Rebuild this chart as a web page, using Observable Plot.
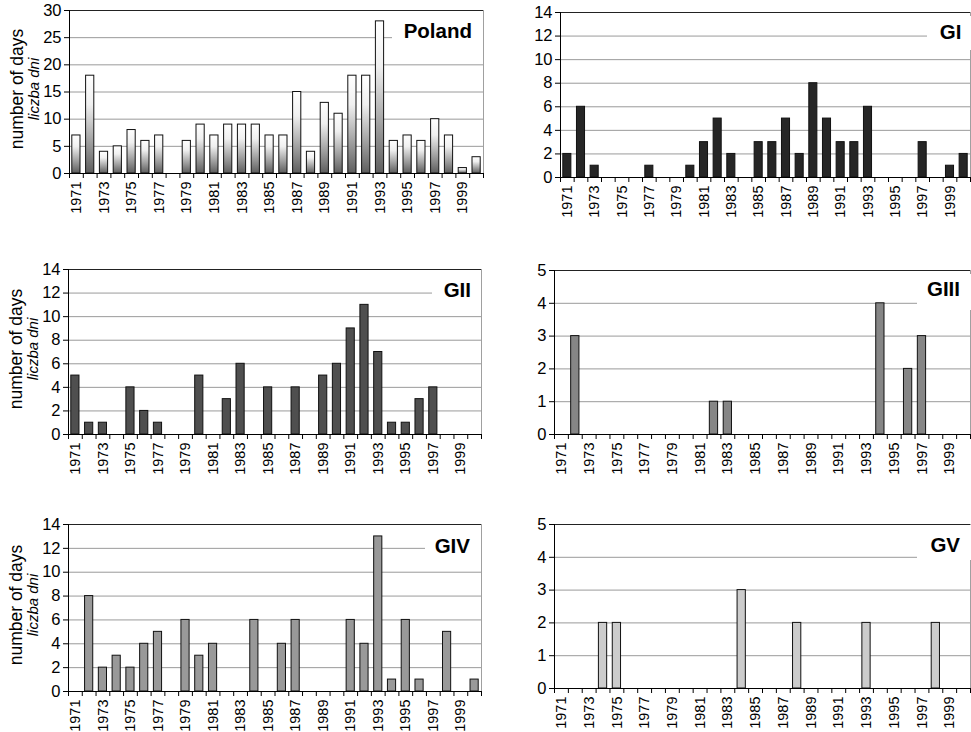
<!DOCTYPE html>
<html><head><meta charset="utf-8">
<script src="https://cdn.jsdelivr.net/npm/d3@7"></script>
<script src="https://cdn.jsdelivr.net/npm/@observablehq/plot@0.6"></script>
<style>
body{margin:0;background:#fff;}
#wrap{position:relative;width:971px;height:732px;overflow:hidden;background:#fff;}
#wrap > svg{position:absolute;overflow:visible;}
</style></head><body><div id="wrap"></div>
<script>
// ---- data ----
const years = [1971,1972,1973,1974,1975,1976,1977,1978,1979,1980,1981,1982,1983,1984,1985,
               1986,1987,1988,1989,1990,1991,1992,1993,1994,1995,1996,1997,1998,1999,2000];
const tickLabels = ["1971","1973","1975","1977","1979","1981","1983","1985","1987","1989",
                    "1991","1993","1995","1997","1999"];
const poland = [7,18,4,5,8,6,7,0,6,9,7,9,9,9,7,7,15,4,13,11,18,18,28,6,7,6,10,7,1,3];
const gI     = [2,6,1,0,0,0,1,0,0,1,3,5,2,0,3,3,5,2,8,5,3,3,6,0,0,0,3,0,1,2];
const gII    = [5,1,1,0,4,2,1,0,0,5,0,3,6,0,4,0,4,0,5,6,9,11,7,1,1,3,4,0,0,0];
const gIII   = [0,3,0,0,0,0,0,0,0,0,0,1,1,0,0,0,0,0,0,0,0,0,0,4,0,2,3,0,0,0];
const gIV    = [0,8,2,3,2,4,5,0,6,3,4,0,0,6,0,4,6,0,0,0,6,4,13,1,6,1,0,5,0,1];
const gV     = [0,0,0,2,2,0,0,0,0,0,0,0,0,3,0,0,0,2,0,0,0,0,2,0,0,0,0,2,0,0];
const yTitle = "number of days";
const yTitlePl = "liczba dni";

// ---- panel layout ----
const panels = [
  {name:"Poland", values:poland, max:30, step:5, fill:"url(#plgrad)", left:0, top:0, width:490, height:225,
   m:[10,7,52,69], ytitle:true, box:[392,16,483,52], tx:472, ty:37.5},
  {name:"GI", values:gI, max:14, step:2, fill:"#262626", left:490, top:0, width:481, height:229,
   m:[12,1,52,70], ytitle:false, box:[437,16,481,50], tx:471.5, ty:39.3},
  {name:"GII", values:gII, max:14, step:2, fill:"#4f4f4f", left:0, top:250, width:490, height:234,
   m:[19,9,50,68], ytitle:true, box:[432,26,481,60], tx:471, ty:46.7},
  {name:"GIII", values:gIII, max:5, step:1, fill:"#868686", left:490, top:250, width:481, height:234,
   m:[20,1,50,64], ytitle:false, box:[427,24,481,60], tx:470, ty:46},
  {name:"GIV", values:gIV, max:14, step:2, fill:"#999999", left:0, top:500, width:490, height:232,
   m:[24,9,41,68], ytitle:true, box:[425,32,481,64], tx:470, ty:53.3},
  {name:"GV", values:gV, max:5, step:1, fill:"#cccccc", left:490, top:500, width:481, height:232,
   m:[24,1,44,64], ytitle:false, box:[427,25,481,60], tx:470, ty:51.7}
];

const FONT = "'Liberation Sans', Arial, Helvetica, sans-serif";
const boundaries = years.concat([years[years.length-1] + 1]);
const labelPos = tickLabels.map(s => +s + 0.5);
const labelMap = new Map(labelPos.map((p, i) => [p, tickLabels[i]]));

const defsMark = () => {
  const defs = d3.create("svg:defs");
  const g = defs.append("linearGradient").attr("id", "plgrad")
    .attr("x1", 0).attr("y1", 0).attr("x2", 0).attr("y2", 1);
  g.append("stop").attr("offset", "0%").attr("stop-color", "#ffffff");
  g.append("stop").attr("offset", "30%").attr("stop-color", "#f0f0f0");
  g.append("stop").attr("offset", "100%").attr("stop-color", "#5e5e5e");
  return defs.node();
};

function labelMark(p) {
  return () => {
    const g = d3.create("svg:g");
    g.append("rect").attr("x", p.box[0]).attr("y", p.box[1])
      .attr("width", p.box[2] - p.box[0]).attr("height", p.box[3] - p.box[1]).attr("fill", "#fff");
    g.append("text").attr("x", p.tx).attr("y", p.ty).attr("text-anchor", "end")
      .attr("font-family", FONT).attr("font-weight", "bold").attr("font-size", 20.5)
      .attr("fill", "#000").text(p.name);
    return g.node();
  };
}

const wrap = document.getElementById("wrap");
for (const p of panels) {
  const data = years.map((y, i) => ({year: y, value: p.values[i]})).filter(d => d.value > 0);
  const yTicks = d3.range(0, p.max + 0.001, p.step);
  const grid = yTicks.filter(v => v > 0 && v < p.max);
  const marks = [
    defsMark,
    Plot.ruleY(grid, {stroke: "#9a9a9a", strokeWidth: 1}),
    Plot.ruleX([boundaries[boundaries.length-1]], {stroke: "#a0a0a0"}),
    Plot.rectY(data, {x: "year", interval: 1, y: "value", fill: p.fill, stroke: "#111",
                      strokeWidth: 1, insetLeft: 2.8, insetRight: 2.8}),
    labelMark(p),
    Plot.ruleY([p.max], {stroke: "#222"}),
    Plot.ruleY([0], {stroke: "#000"}),
    Plot.ruleX([years[0]], {stroke: "#000"}),
    Plot.axisY({ticks: yTicks, tickSize: 5, tickPadding: 3, fontSize: 16.5, label: null,
                tickFormat: d => String(d)}),
    Plot.axisX({ticks: boundaries, tickSize: 5, tickFormat: () => "", label: null}),
    Plot.axisX({ticks: labelPos, tickSize: 0, tickPadding: 8, tickRotate: -90, fontSize: 14.5,
                label: null, tickFormat: d => labelMap.get(d)})
  ];
  if (p.ytitle) {
    marks.push(Plot.text([yTitle], {frameAnchor: "left", textAnchor: "middle", rotate: -90, dx: -52, dy: -3, fontSize: 17.5, fill: "#000"}));
    marks.push(Plot.text([yTitlePl], {frameAnchor: "left", textAnchor: "middle", rotate: -90, dx: -35, dy: -3, fontSize: 15, fontStyle: "italic", fill: "#000"}));
  }
  const chart = Plot.plot({
    width: p.width, height: p.height,
    marginTop: p.m[0], marginRight: p.m[1], marginBottom: p.m[2], marginLeft: p.m[3],
    x: {type: "linear", domain: [boundaries[0], boundaries[boundaries.length-1]]},
    y: {domain: [0, p.max]},
    style: {fontFamily: FONT, fontSize: "14px", background: "transparent", color: "#000", overflow: "visible"},
    marks
  });
  chart.style.left = p.left + "px";
  chart.style.top = p.top + "px";
  wrap.appendChild(chart);
}
</script>
</body></html>
